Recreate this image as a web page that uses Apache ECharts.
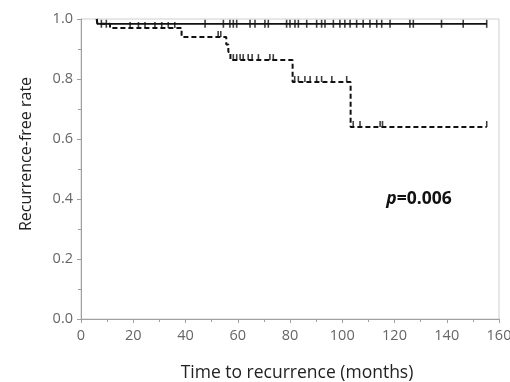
<!DOCTYPE html>
<html><head><meta charset="utf-8">
<script src="https://cdn.jsdelivr.net/npm/echarts@6/dist/echarts.min.js"></script>
<style>html,body{margin:0;padding:0;background:#fff}#c{width:510px;height:382px}</style>
</head><body><div id="c"></div>
<script>
// Kaplan-Meier step points: time (months) and survival after that time
const solidTimes = [6, 6.3, 155.3];
const solidSurv  = [1.0, 0.984, 0.984];
const dashedTimes = [6, 6.3, 11.1, 38.5, 55.6, 56.4, 57.2, 81.0, 103.2, 155.3];
const dashedSurv  = [1.0, 0.984, 0.97, 0.94, 0.915, 0.89, 0.863, 0.79, 0.64, 0.64];
// censoring times
const solidCensor = [7.8, 9.7, 47.5, 54.5, 57, 58.3, 59.6, 64.7, 66.6, 70.4, 71.7, 78.7, 80, 81.9, 83.2, 86.4, 90.2, 92.1, 93.4, 96.6, 99.1, 101, 103, 105.5, 108, 110.6, 113.2, 115.1, 118.3, 125.9, 127.2, 138, 146.3, 155.3];
const dashedCensor = [18.8, 22, 24.5, 28.3, 30.9, 33.4, 35.9, 52.5, 53.5, 58.3, 59.6, 60.9, 62.1, 64, 65.5, 67.9, 72.3, 73.6, 81.8, 83.2, 85.7, 87.7, 90.2, 92.1, 96, 101.7, 104.2, 106.8, 114.5, 115.4, 155.3];
const xTicks = [0, 20, 40, 60, 80, 100, 120, 140, 160];
const yTicks = [0.0, 0.2, 0.4, 0.6, 0.8, 1.0];
const pLabel = 'p';
const pValue = '=0.006';

function survAt(times, surv, t) {
  let v = surv[0];
  for (let i = 0; i < times.length; i++) { if (times[i] <= t) v = surv[i]; }
  return v;
}
const solidLine = solidTimes.map((t, i) => [t, solidSurv[i]]);
const dashedLine = dashedTimes.map((t, i) => [t, dashedSurv[i]]);
const solidMarks = solidCensor.map(t => [t, survAt(solidTimes, solidSurv, t)]);
const dashedMarks = dashedCensor.map(t => [t, survAt(dashedTimes, dashedSurv, t)]);

const chart = echarts.init(document.getElementById('c'));
const labelStyle = { color: '#666', fontSize: 14.5, fontFamily: 'Open Sans' };
chart.setOption({
  animation: false,
  grid: { left: 81, right: 11, top: 19, bottom: 63, show: true, borderColor: '#cfcfcf', borderWidth: 1,
          containLabel: false, outerBoundsMode: 'none' },
  xAxis: {
    type: 'value', min: xTicks[0], max: xTicks[xTicks.length - 1], interval: 20,
    name: 'Time to recurrence (months)', nameLocation: 'middle', nameGap: 45,
    nameTextStyle: { color: '#222', fontSize: 17.5, fontFamily: 'Open Sans', padding: [0, 0, 0, 14] },
    axisLine: { lineStyle: { color: '#a0a0a0' } },
    axisTick: { show: true, length: 4, lineStyle: { color: '#a0a0a0' } },
    minorTick: { show: true, splitNumber: 2, length: 3, lineStyle: { color: '#a0a0a0' } },
    splitLine: { show: false },
    axisLabel: Object.assign({ margin: 9 }, labelStyle)
  },
  yAxis: {
    type: 'value', min: yTicks[0], max: yTicks[yTicks.length - 1], interval: 0.2,
    axisLine: { show: true, lineStyle: { color: '#a0a0a0' } },
    axisTick: { show: true, length: 4, lineStyle: { color: '#a0a0a0' } },
    minorTick: { show: true, splitNumber: 2, length: 3, lineStyle: { color: '#a0a0a0' } },
    splitLine: { show: false },
    axisLabel: Object.assign({ margin: 8, formatter: v => v.toFixed(1) }, labelStyle)
  },
  graphic: [
    { type: 'text', x: 26, y: 154, rotation: Math.PI / 2,
      style: { text: 'Recurrence-free rate', fill: '#222', font: '16px "Open Sans"', align: 'center', verticalAlign: 'middle' } },
    { type: 'text', x: 419, y: 199,
      style: { text: '{i|' + pLabel + '}{b|' + pValue + '}', align: 'center', verticalAlign: 'middle',
        rich: { i: { fontStyle: 'italic', fontWeight: 'bold', fontSize: 17.5, fontFamily: 'Open Sans', fill: '#111' },
                b: { fontWeight: 'bold', fontSize: 17.5, fontFamily: 'Open Sans', fill: '#111' } } } }
  ],
  series: [
    { type: 'line', data: dashedLine, step: 'end', symbol: 'none', z: 3,
      lineStyle: { color: '#111', width: 2, type: [5, 3] } },
    { type: 'line', data: solidLine, step: 'end', symbol: 'none', z: 4,
      lineStyle: { color: '#111', width: 1.8 } },
    { type: 'scatter', data: solidMarks, symbol: 'rect', symbolSize: [1.6, 8], z: 5,
      itemStyle: { color: '#111' } },
    { type: 'scatter', data: dashedMarks, symbol: 'rect', symbolSize: [1.6, 6], symbolOffset: [0, -3], z: 5,
      itemStyle: { color: '#111' } }
  ]
});
</script></body></html>
